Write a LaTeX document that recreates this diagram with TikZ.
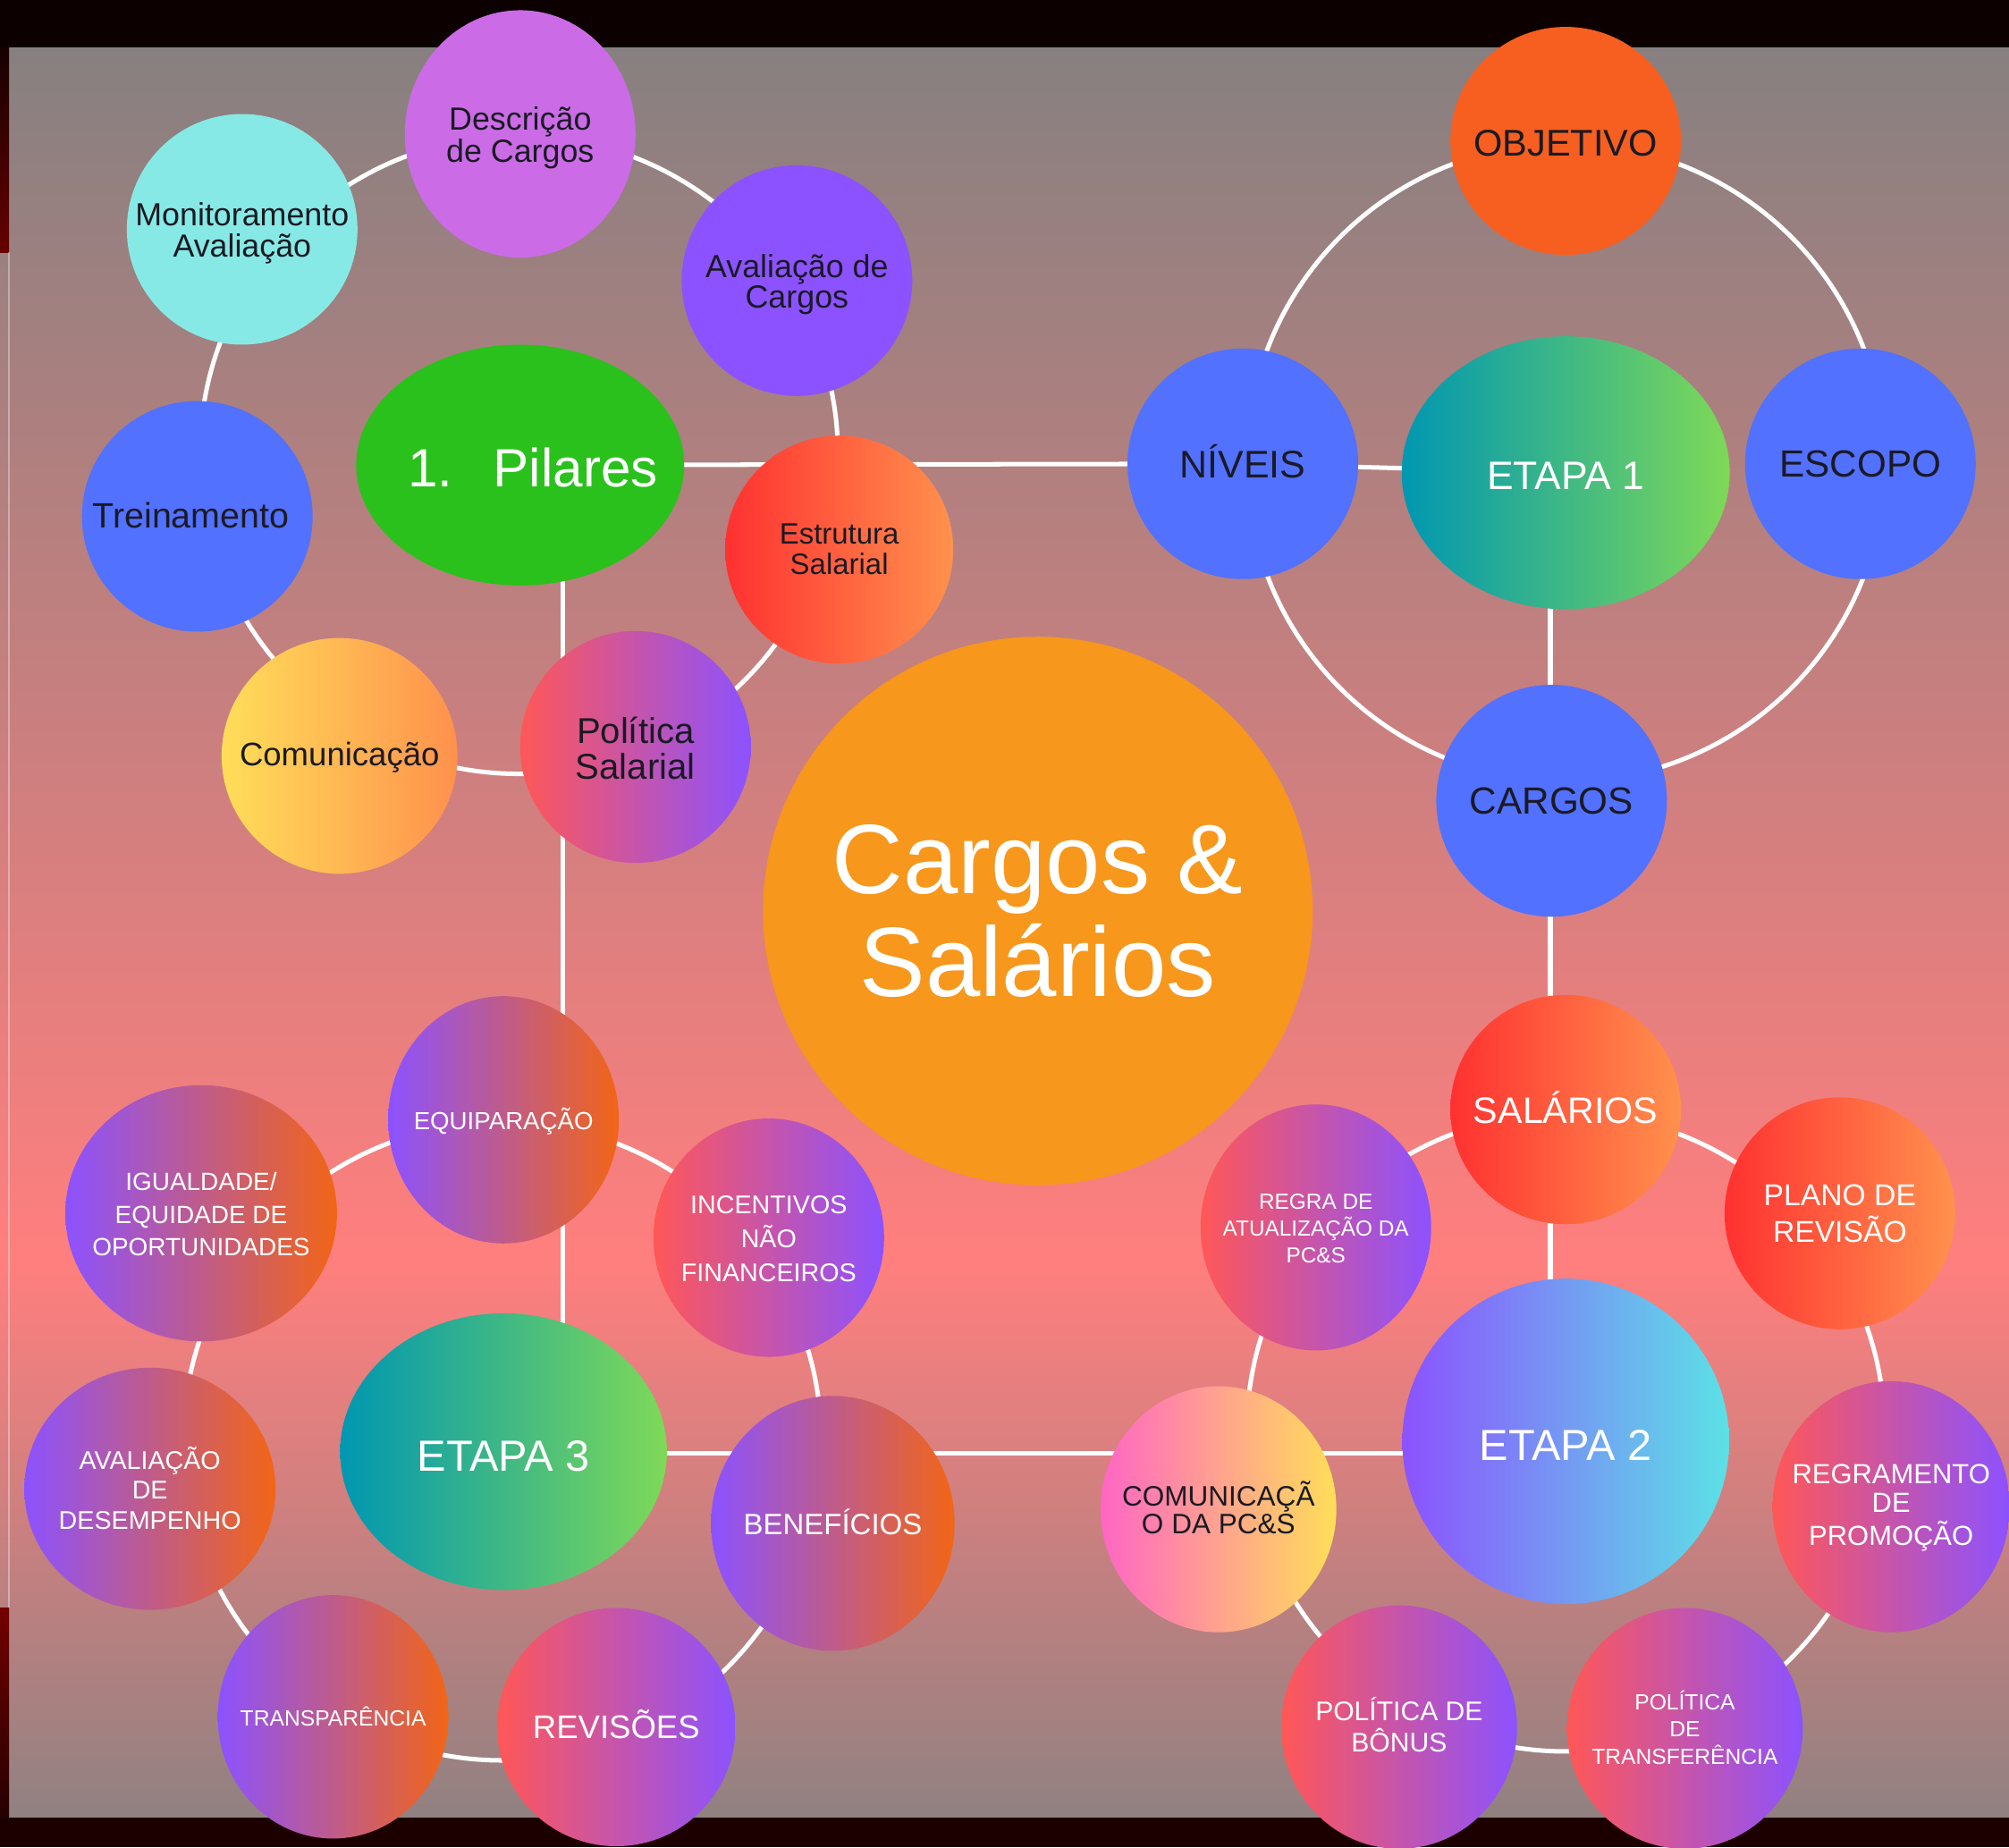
\documentclass[tikz,border=0pt]{standalone}
\usepackage{fontspec}
\setmainfont{Liberation Sans}
\usetikzlibrary{shapes.geometric}
\pgfdeclarelayer{bg}
\pgfdeclarelayer{lines}
\pgfsetlayers{bg,lines,main}
\definecolor{bandtop}{HTML}{0D0000}
\definecolor{bandbot}{HTML}{1C0000}
\definecolor{gtop}{HTML}{878080}
\definecolor{gmid}{HTML}{FF7F7E}
\definecolor{gbot}{HTML}{918181}
\definecolor{darktxt}{HTML}{1A1A24}
\definecolor{cLilac}{HTML}{CB6CE6}
\definecolor{cCyan}{HTML}{87E9E5}
\definecolor{cPurple}{HTML}{8C52FF}
\definecolor{cGreen}{HTML}{2AC11C}
\definecolor{cBlue}{HTML}{5271FF}
\definecolor{cYellow}{HTML}{FFDE59}
\definecolor{cOrangeL}{HTML}{FF914D}
\definecolor{cRed}{HTML}{FF3131}
\definecolor{cCoral}{HTML}{FF5757}
\definecolor{cOrangeD}{HTML}{F65F20}
\definecolor{cTeal}{HTML}{0097B2}
\definecolor{cLime}{HTML}{7ED957}
\definecolor{cAmber}{HTML}{F7971B}
\definecolor{cBurnt}{HTML}{F26516}
\definecolor{cAqua}{HTML}{5CE1E6}
\definecolor{cPink}{HTML}{FF66C4}
\newcommand\lbl[4][0pt]{\makebox[0pt][c]{\smash{\raisebox{#1}{\raisebox{-0.4\dimexpr#2pt\relax}{\fontsize{#2}{#3}\selectfont\begin{tabular}{@{}c@{}}#4\end{tabular}}}}}}
\tikzset{
  blob/.style={ellipse, inner sep=0pt, outer sep=0pt, draw=none},
  dk/.style={text=darktxt},
  wt/.style={text=white},
  ringline/.style={draw=white, line width=3.5pt},
  conn/.style={draw=white, line width=3.5pt},
  gRO/.style={left color=cRed, right color=cOrangeL},
  gCP/.style={left color=cCoral, right color=cPurple},
  gPB/.style={left color=cPurple, right color=cBurnt},
  gYO/.style={left color=cYellow, right color=cOrangeL},
  gTG/.style={left color=cTeal, right color=cLime},
  gPA/.style={left color=cPurple, right color=cAqua},
  gPY/.style={left color=cPink, right color=cYellow},
}
\begin{document}
\begin{tikzpicture}[x=1pt, y=-1pt]
\useasboundingbox (0,0) rectangle (1568,1442);
\begin{pgfonlayer}{bg}
  \fill[bandtop] (0,0) rectangle (1568,720);
  \fill[bandbot] (0,720) rectangle (1568,1442);
  \shade[top color=gtop, bottom color=gmid] (0,37) rectangle (1568,985);
  \shade[top color=gmid, bottom color=gbot] (0,985) rectangle (1568,1418);
  \shade[top color=black!70!red!30!black, bottom color=red!40!black] (0,37) rectangle (7,197);
  \shade[top color=red!45!black, bottom color=red!15!black] (0,1255) rectangle (7,1418);
  \draw[white, opacity=0.35, line width=1pt] (7,197) -- (7,1255);
\end{pgfonlayer}

% Pilares cluster
\node[blob, minimum width=256pt, minimum height=188pt, fill=cGreen, wt] (pilares) at (406,363) {\hspace{20pt}\lbl[3pt]{42}{48}{1.\hspace{0.75em}Pilares}};
\node[blob, minimum width=180pt, minimum height=193pt, fill=cLilac, dk] (desc) at (406,104.5) {\lbl{25}{23}{Descrição\\de Cargos}};
\node[blob, minimum width=180pt, minimum height=180pt, fill=cCyan, dk] (monit) at (189,179) {\lbl{25}{23}{Monitoramento\\Avaliação}};
\node[blob, minimum width=180pt, minimum height=180pt, fill=cPurple, dk] (avalc) at (622,219) {\lbl{25}{22}{Avaliação de\\Cargos}};
\node[blob, minimum width=180pt, minimum height=180pt, fill=cBlue, dk] (trein) at (154,403) {\hspace{-10pt}\lbl[2pt]{27.5}{30}{Treinamento}};
\node[blob, minimum width=184pt, minimum height=184pt, gYO, dk] (comun) at (265,590) {\lbl[2pt]{25.5}{28}{Comunicação}};
\node[blob, minimum width=180pt, minimum height=181pt, gCP, dk] (polsal) at (496,583) {\lbl{28}{26}{Política\\Salarial}};
\node[blob, minimum width=178pt, minimum height=178pt, gRO, dk] (estr) at (655,429) {\lbl{23}{22}{Estrutura\\Salarial}};

% Etapa 1 cluster
\node[blob, minimum width=180pt, minimum height=178pt, fill=cOrangeD, dk] (objetivo) at (1222,110) {\lbl{29}{32}{OBJETIVO}};
\node[blob, minimum width=180pt, minimum height=180pt, fill=cBlue, dk] (niveis) at (970,362) {\lbl[3pt]{30}{33}{NÍVEIS}};
\node[blob, minimum width=256pt, minimum height=213pt, gTG, wt] (etapa1) at (1222,369) {\lbl{31}{34}{ETAPA 1}};
\node[blob, minimum width=180pt, minimum height=180pt, fill=cBlue, dk] (escopo) at (1452,362) {\lbl[2pt]{29.5}{33}{ESCOPO}};
\node[blob, minimum width=180pt, minimum height=181pt, fill=cBlue, dk] (cargos) at (1211,625) {\lbl[2pt]{29.5}{33}{CARGOS}};

% Centre
\node[blob, minimum width=429pt, minimum height=428pt, fill=cAmber, wt] (centre) at (810,711) {\lbl[14pt]{77}{80}{Cargos \&\\Salários}};

% Etapa 3 cluster
\node[blob, minimum width=180pt, minimum height=193pt, gPB, wt] (equip) at (393,874) {\lbl{19.3}{22}{EQUIPARAÇÃO}};
\node[blob, minimum width=212pt, minimum height=200pt, gPB, wt] (igual) at (157,947) {\lbl{19.5}{25.5}{IGUALDADE/\\EQUIDADE DE\\OPORTUNIDADES}};
\node[blob, minimum width=180pt, minimum height=186pt, gCP, wt] (incent) at (600,966) {\lbl{20}{26.5}{INCENTIVOS\\NÃO\\FINANCEIROS}};
\node[blob, minimum width=196pt, minimum height=189pt, gPB, wt] (avald) at (117,1162) {\lbl{20}{23.5}{AVALIAÇÃO\\DE\\DESEMPENHO}};
\node[blob, minimum width=255pt, minimum height=216pt, gTG, wt] (etapa3) at (393,1133) {\lbl{34}{38}{ETAPA 3}};
\node[blob, minimum width=190pt, minimum height=199pt, gPB, wt] (benef) at (650,1189) {\lbl{23}{26}{BENEFÍCIOS}};
\node[blob, minimum width=180pt, minimum height=190pt, gPB, wt] (transp) at (260,1340) {\lbl{17.2}{20}{TRANSPARÊNCIA}};
\node[blob, minimum width=186pt, minimum height=186pt, gCP, wt] (revis) at (481,1348) {\lbl[2pt]{25.5}{29}{REVISÕES}};

% Etapa 2 cluster
\node[blob, minimum width=180pt, minimum height=179pt, gRO, wt] (salar) at (1222,866) {\lbl[2pt]{28.8}{32}{SALÁRIOS}};
\node[blob, minimum width=180pt, minimum height=192pt, gCP, wt] (regra) at (1027,958) {\lbl{17}{21}{REGRA DE\\ATUALIZAÇÃO DA\\PC\&S}};
\node[blob, minimum width=180pt, minimum height=181pt, gRO, wt] (plano) at (1436,947) {\lbl{23.5}{27}{PLANO DE\\REVISÃO}};
\node[blob, minimum width=255pt, minimum height=254pt, gPA, wt] (etapa2) at (1222,1125) {\lbl{34}{38}{ETAPA 2}};
\node[blob, minimum width=184pt, minimum height=192pt, gPY, dk] (compcs) at (951,1178) {\lbl[2pt]{22}{20}{COMUNICAÇÃ\\O DA PC\&S}};
\node[blob, minimum width=185pt, minimum height=196pt, gCP, wt] (regram) at (1476,1176) {\lbl[2pt]{21.6}{22.5}{REGRAMENTO\\DE\\PROMOÇÃO}};
\node[blob, minimum width=184pt, minimum height=190pt, gCP, wt] (bonus) at (1092,1348) {\lbl[2pt]{21}{20}{POLÍTICA DE\\BÔNUS}};
\node[blob, minimum width=184pt, minimum height=188pt, gCP, wt] (transf) at (1315,1349) {\lbl{17.2}{21}{POLÍTICA\\DE\\TRANSFERÊNCIA}};

% rings and connectors
\coordinate (ringA) at (405,355);
\coordinate (ringB) at (1222,361);
\coordinate (ringC) at (392,1125);
\coordinate (ringD) at (1222,1118);
\coordinate (vxa) at (439,0);
\coordinate (vxb) at (1210,0);
\coordinate (hy) at (0,1134);
\begin{pgfonlayer}{lines}
  \draw[ringline] (ringA) circle[radius=249];
  \draw[ringline] (ringB) circle[radius=249];
  \draw[ringline] (ringC) circle[radius=249];
  \draw[ringline] (ringD) circle[radius=249];
  \draw[conn] (pilares.center) -- (niveis.center);
  \draw[conn] (niveis.center) -- (etapa1.center);
  \draw[conn] (vxa |- pilares.center) -- (vxa |- etapa3.center);
  \draw[conn] (vxb |- etapa1.center) -- (vxb |- cargos.center);
  \draw[conn] (vxb |- cargos.center) -- (vxb |- salar.center);
  \draw[conn] (vxb |- salar.center) -- (vxb |- etapa2.center);
  \draw[conn] (etapa3.center |- hy) -- (compcs.center |- hy);
  \draw[conn] (compcs.center |- hy) -- (etapa2.center |- hy);
\end{pgfonlayer}
\end{tikzpicture}
\end{document}
